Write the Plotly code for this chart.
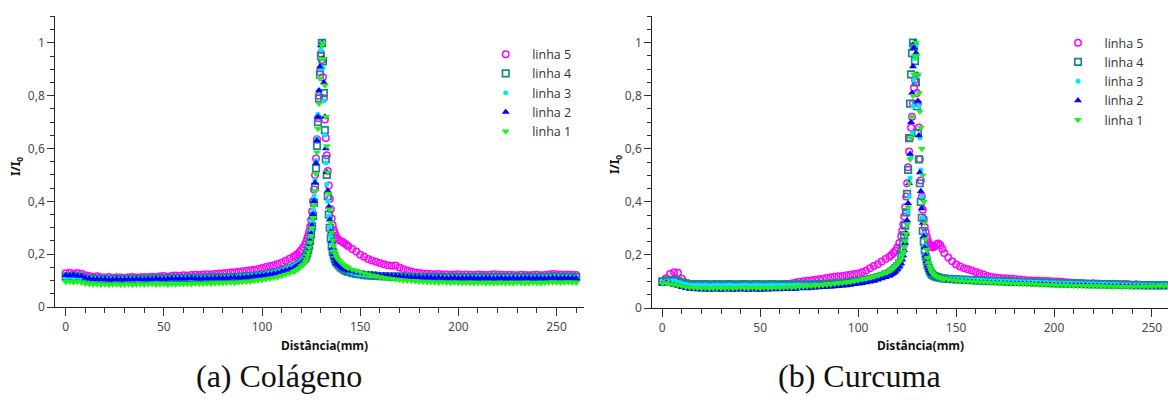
import plotly.graph_objects as go

# Distância (mm) sample positions
X_MM = [
    0, 2, 4, 6, 8, 10, 12, 14, 16, 18,
    20, 22, 24, 26, 28, 30, 32, 34, 36, 38,
    40, 42, 44, 46, 48, 50, 52, 54, 56, 58,
    60, 62, 64, 66, 68, 70, 72, 74, 76, 78,
    80, 82, 84, 86, 88, 90, 92, 94, 96, 98,
    100, 102, 104, 106, 108, 110, 112, 114,
    116, 117, 118, 119, 120, 121,
    122, 122.5, 123, 123.5, 124, 124.5, 125, 125.5, 126, 126.5,
    127, 127.5, 128, 128.5, 129, 129.5, 130, 130.5, 131, 131.5,
    132, 132.5, 133, 133.5, 134, 134.5, 135, 135.5, 136, 136.5,
    137, 137.5, 138,
    139, 140, 141, 142, 143, 144,
    146, 148, 150, 152, 154, 156, 158, 160, 162, 164,
    166, 168, 170, 172, 174, 176, 178, 180, 182, 184,
    186, 188, 190, 192, 194, 196, 198, 200, 202, 204,
    206, 208, 210, 212, 214, 216, 218, 220, 222, 224,
    226, 228, 230, 232, 234, 236, 238, 240, 242, 244,
    246, 248, 250, 252, 254, 256, 258, 260,
]

# ---------- (a) Colágeno ----------
COL_L5 = [
    0.128, 0.130, 0.127, 0.129, 0.126, 0.120, 0.117, 0.115, 0.116, 0.113,
    0.112, 0.114, 0.111, 0.113, 0.112, 0.111, 0.113, 0.114, 0.112, 0.113,
    0.114, 0.113, 0.115, 0.114, 0.116, 0.117, 0.115, 0.118, 0.119, 0.118,
    0.120, 0.119, 0.121, 0.122, 0.121, 0.123, 0.124, 0.123, 0.125, 0.127,
    0.128, 0.129, 0.131, 0.132, 0.133, 0.135, 0.137, 0.139, 0.141, 0.144,
    0.148, 0.151, 0.155, 0.158, 0.163, 0.168, 0.175, 0.183,
    0.190, 0.195, 0.200, 0.207, 0.216, 0.226,
    0.238, 0.247, 0.258, 0.270, 0.285, 0.305, 0.330, 0.362, 0.400, 0.445,
    0.500, 0.562, 0.635, 0.715, 0.800, 0.890, 0.960, 0.935, 0.870, 0.790,
    0.710, 0.640, 0.575, 0.515, 0.460, 0.410, 0.370, 0.335, 0.310, 0.292,
    0.280, 0.270, 0.262,
    0.255, 0.250, 0.246, 0.241, 0.236, 0.230,
    0.220, 0.210, 0.198, 0.190, 0.182, 0.176, 0.171, 0.167, 0.162, 0.158,
    0.156, 0.157, 0.150, 0.143, 0.138, 0.134, 0.131, 0.129, 0.127, 0.126,
    0.125, 0.124, 0.125, 0.123, 0.124, 0.122, 0.123, 0.124, 0.122, 0.123,
    0.122, 0.121, 0.123, 0.122, 0.121, 0.122, 0.124, 0.123, 0.122, 0.121,
    0.122, 0.121, 0.120, 0.122, 0.121, 0.120, 0.121, 0.122, 0.120, 0.121,
    0.123, 0.125, 0.124, 0.123, 0.122, 0.123, 0.122, 0.121,
]
COL_L4 = [
    0.115, 0.117, 0.114, 0.116, 0.113, 0.110, 0.108, 0.107, 0.108, 0.106,
    0.107, 0.105, 0.106, 0.107, 0.105, 0.106, 0.107, 0.106, 0.108, 0.107,
    0.106, 0.108, 0.107, 0.109, 0.108, 0.107, 0.109, 0.110, 0.109, 0.110,
    0.109, 0.110, 0.111, 0.110, 0.109, 0.111, 0.110, 0.112, 0.111, 0.112,
    0.111, 0.113, 0.112, 0.114, 0.113, 0.115, 0.116, 0.117, 0.118, 0.120,
    0.122, 0.124, 0.126, 0.129, 0.132, 0.136, 0.140, 0.146,
    0.150, 0.154, 0.158, 0.163, 0.169, 0.176,
    0.184, 0.193, 0.203, 0.215, 0.230, 0.250, 0.275, 0.305, 0.345, 0.395,
    0.455, 0.525, 0.610, 0.700, 0.790, 0.880, 0.950, 1.000, 0.930, 0.810,
    0.670, 0.560, 0.500, 0.420, 0.350, 0.300, 0.260, 0.230, 0.210, 0.195,
    0.183, 0.174, 0.166,
    0.158, 0.150, 0.145, 0.140, 0.136, 0.133,
    0.128, 0.125, 0.123, 0.121, 0.120, 0.119, 0.118, 0.117, 0.117, 0.116,
    0.115, 0.116, 0.115, 0.114, 0.115, 0.114, 0.113, 0.114, 0.113, 0.114,
    0.113, 0.112, 0.114, 0.113, 0.112, 0.113, 0.114, 0.112, 0.113, 0.112,
    0.113, 0.112, 0.113, 0.114, 0.112, 0.113, 0.112, 0.114, 0.113, 0.112,
    0.113, 0.114, 0.112, 0.113, 0.114, 0.113, 0.112, 0.113, 0.114, 0.113,
    0.114, 0.116, 0.115, 0.114, 0.113, 0.115, 0.114, 0.113,
]
COL_L3 = [
    0.113, 0.115, 0.112, 0.114, 0.112, 0.108, 0.106, 0.105, 0.106, 0.104,
    0.105, 0.104, 0.106, 0.105, 0.104, 0.105, 0.106, 0.105, 0.104, 0.106,
    0.105, 0.107, 0.106, 0.105, 0.107, 0.106, 0.108, 0.107, 0.108, 0.109,
    0.108, 0.109, 0.108, 0.110, 0.109, 0.110, 0.111, 0.110, 0.111, 0.112,
    0.112, 0.113, 0.114, 0.113, 0.115, 0.116, 0.117, 0.118, 0.120, 0.122,
    0.124, 0.126, 0.129, 0.132, 0.135, 0.139, 0.144, 0.150,
    0.154, 0.158, 0.163, 0.168, 0.174, 0.181,
    0.190, 0.200, 0.212, 0.226, 0.243, 0.265, 0.292, 0.325, 0.367, 0.420,
    0.482, 0.555, 0.640, 0.730, 0.820, 0.905, 0.975, 0.990, 0.905, 0.780,
    0.650, 0.545, 0.465, 0.400, 0.345, 0.300, 0.265, 0.238, 0.216, 0.200,
    0.188, 0.178, 0.170,
    0.162, 0.154, 0.148, 0.143, 0.139, 0.135,
    0.130, 0.126, 0.124, 0.122, 0.121, 0.119, 0.118, 0.117, 0.116, 0.115,
    0.115, 0.114, 0.113, 0.114, 0.113, 0.112, 0.113, 0.112, 0.111, 0.112,
    0.111, 0.112, 0.110, 0.111, 0.112, 0.111, 0.110, 0.111, 0.112, 0.111,
    0.110, 0.111, 0.112, 0.110, 0.111, 0.110, 0.112, 0.111, 0.110, 0.111,
    0.112, 0.111, 0.110, 0.111, 0.112, 0.110, 0.111, 0.112, 0.111, 0.110,
    0.112, 0.113, 0.112, 0.111, 0.112, 0.111, 0.112, 0.111,
]
COL_L2 = [
    0.120, 0.118, 0.121, 0.117, 0.116, 0.110, 0.107, 0.105, 0.106, 0.104,
    0.105, 0.103, 0.104, 0.105, 0.103, 0.104, 0.105, 0.104, 0.106, 0.105,
    0.104, 0.106, 0.105, 0.107, 0.106, 0.105, 0.107, 0.108, 0.107, 0.108,
    0.107, 0.108, 0.109, 0.108, 0.107, 0.108, 0.109, 0.108, 0.109, 0.110,
    0.109, 0.110, 0.111, 0.112, 0.111, 0.113, 0.114, 0.115, 0.117, 0.118,
    0.120, 0.122, 0.124, 0.127, 0.130, 0.134, 0.138, 0.144,
    0.148, 0.152, 0.157, 0.162, 0.168, 0.175,
    0.183, 0.192, 0.203, 0.216, 0.232, 0.252, 0.278, 0.310, 0.350, 0.400,
    0.470, 0.545, 0.630, 0.720, 0.820, 0.910, 0.990, 1.000, 0.940, 0.850,
    0.720, 0.600, 0.510, 0.440, 0.380, 0.330, 0.285, 0.250, 0.222, 0.200,
    0.185, 0.174, 0.165,
    0.158, 0.152, 0.147, 0.143, 0.140, 0.137,
    0.134, 0.131, 0.129, 0.127, 0.125, 0.124, 0.123, 0.121, 0.120, 0.119,
    0.118, 0.117, 0.116, 0.115, 0.114, 0.113, 0.113, 0.112, 0.111, 0.112,
    0.111, 0.110, 0.111, 0.110, 0.109, 0.110, 0.111, 0.109, 0.110, 0.109,
    0.110, 0.109, 0.108, 0.109, 0.110, 0.109, 0.108, 0.109, 0.110, 0.108,
    0.109, 0.110, 0.108, 0.109, 0.110, 0.109, 0.108, 0.110, 0.109, 0.108,
    0.109, 0.111, 0.110, 0.109, 0.110, 0.109, 0.110, 0.109,
]
COL_L1 = [
    0.095, 0.097, 0.094, 0.096, 0.093, 0.089, 0.087, 0.086, 0.087, 0.085,
    0.086, 0.084, 0.085, 0.086, 0.084, 0.085, 0.086, 0.084, 0.085, 0.086,
    0.085, 0.086, 0.087, 0.085, 0.086, 0.087, 0.085, 0.087, 0.086, 0.087,
    0.087, 0.088, 0.087, 0.089, 0.088, 0.089, 0.090, 0.089, 0.090, 0.091,
    0.091, 0.092, 0.093, 0.092, 0.094, 0.095, 0.096, 0.097, 0.099, 0.101,
    0.103, 0.105, 0.108, 0.111, 0.114, 0.118, 0.123, 0.128,
    0.133, 0.137, 0.142, 0.148, 0.155, 0.163,
    0.172, 0.182, 0.194, 0.208, 0.225, 0.245, 0.270, 0.300, 0.338, 0.385,
    0.440, 0.505, 0.585, 0.675, 0.770, 0.865, 0.940, 0.990, 1.000, 0.940,
    0.840, 0.720, 0.610, 0.510, 0.430, 0.370, 0.320, 0.282, 0.252, 0.230,
    0.212, 0.198, 0.187,
    0.178, 0.170, 0.163, 0.157, 0.152, 0.148,
    0.142, 0.137, 0.133, 0.128, 0.124, 0.120, 0.117, 0.114, 0.111, 0.109,
    0.107, 0.105, 0.103, 0.101, 0.100, 0.099, 0.098, 0.097, 0.096, 0.095,
    0.095, 0.094, 0.093, 0.094, 0.093, 0.092, 0.093, 0.092, 0.091, 0.092,
    0.091, 0.090, 0.091, 0.092, 0.090, 0.091, 0.090, 0.091, 0.092, 0.090,
    0.091, 0.090, 0.092, 0.091, 0.090, 0.091, 0.092, 0.091, 0.090, 0.092,
    0.093, 0.094, 0.093, 0.092, 0.093, 0.094, 0.093, 0.092,
]

# ---------- (b) Curcuma ----------
CUR_L5 = [
    0.100, 0.112, 0.128, 0.135, 0.133, 0.110, 0.095, 0.090, 0.088, 0.086,
    0.085, 0.086, 0.084, 0.085, 0.086, 0.084, 0.085, 0.086, 0.085, 0.084,
    0.085, 0.086, 0.085, 0.084, 0.086, 0.085, 0.086, 0.085, 0.086, 0.087,
    0.088, 0.089, 0.090, 0.092, 0.096, 0.099, 0.101, 0.103, 0.104, 0.106,
    0.108, 0.110, 0.113, 0.116, 0.118, 0.120, 0.121, 0.123, 0.125, 0.128,
    0.130, 0.135, 0.140, 0.150, 0.158, 0.165, 0.175, 0.185,
    0.193, 0.200, 0.207, 0.216, 0.228, 0.245,
    0.270, 0.290, 0.315, 0.345, 0.380, 0.420, 0.470, 0.530, 0.590, 0.640,
    0.680, 0.720, 0.770, 0.830, 0.860, 0.850, 0.810, 0.770, 0.680, 0.560,
    0.480, 0.420, 0.370, 0.335, 0.305, 0.285, 0.268, 0.255, 0.245, 0.238,
    0.233, 0.230, 0.228,
    0.232, 0.240, 0.243, 0.236, 0.222, 0.207,
    0.190, 0.176, 0.164, 0.156, 0.150, 0.146, 0.141, 0.136, 0.131, 0.126,
    0.121, 0.117, 0.115, 0.113, 0.112, 0.111, 0.110, 0.109, 0.107, 0.106,
    0.105, 0.104, 0.104, 0.103, 0.102, 0.102, 0.101, 0.100, 0.100, 0.099,
    0.097, 0.096, 0.095, 0.094, 0.094, 0.093, 0.092, 0.093, 0.092, 0.091,
    0.091, 0.090, 0.091, 0.090, 0.089, 0.090, 0.089, 0.088, 0.089, 0.088,
    0.087, 0.088, 0.087, 0.086, 0.087, 0.088, 0.087, 0.088,
]
CUR_L4 = [
    0.100, 0.104, 0.102, 0.105, 0.101, 0.097, 0.093, 0.090, 0.089, 0.090,
    0.089, 0.090, 0.088, 0.089, 0.090, 0.088, 0.089, 0.090, 0.089, 0.088,
    0.089, 0.090, 0.089, 0.088, 0.090, 0.089, 0.088, 0.089, 0.090, 0.089,
    0.088, 0.089, 0.088, 0.087, 0.088, 0.089, 0.088, 0.089, 0.088, 0.090,
    0.089, 0.090, 0.091, 0.090, 0.092, 0.093, 0.094, 0.095, 0.097, 0.099,
    0.101, 0.103, 0.106, 0.109, 0.112, 0.116, 0.121, 0.127,
    0.132, 0.137, 0.143, 0.150, 0.158, 0.168,
    0.200, 0.220, 0.245, 0.275, 0.310, 0.360, 0.430, 0.520, 0.640, 0.770,
    0.880, 0.960, 1.000, 0.985, 0.930, 0.850, 0.760, 0.660, 0.560, 0.470,
    0.400, 0.340, 0.290, 0.250, 0.218, 0.194, 0.176, 0.162, 0.150, 0.141,
    0.134, 0.128, 0.124,
    0.120, 0.117, 0.115, 0.113, 0.112, 0.111,
    0.110, 0.109, 0.108, 0.107, 0.106, 0.106, 0.105, 0.104, 0.104, 0.103,
    0.102, 0.102, 0.101, 0.101, 0.100, 0.100, 0.099, 0.099, 0.098, 0.098,
    0.097, 0.097, 0.096, 0.096, 0.095, 0.095, 0.094, 0.094, 0.093, 0.093,
    0.092, 0.092, 0.091, 0.091, 0.091, 0.090, 0.090, 0.090, 0.089, 0.089,
    0.089, 0.088, 0.088, 0.088, 0.087, 0.087, 0.087, 0.086, 0.086, 0.086,
    0.086, 0.085, 0.086, 0.085, 0.085, 0.086, 0.085, 0.086,
]
CUR_L3 = [
    0.098, 0.101, 0.099, 0.102, 0.097, 0.093, 0.089, 0.087, 0.086, 0.087,
    0.086, 0.087, 0.085, 0.086, 0.087, 0.085, 0.086, 0.087, 0.086, 0.085,
    0.086, 0.087, 0.086, 0.085, 0.087, 0.086, 0.085, 0.086, 0.087, 0.086,
    0.085, 0.086, 0.085, 0.084, 0.085, 0.086, 0.085, 0.086, 0.085, 0.087,
    0.086, 0.087, 0.088, 0.087, 0.089, 0.090, 0.091, 0.092, 0.094, 0.096,
    0.098, 0.100, 0.103, 0.106, 0.109, 0.113, 0.118, 0.124,
    0.129, 0.134, 0.140, 0.147, 0.155, 0.165,
    0.177, 0.190, 0.205, 0.224, 0.248, 0.278, 0.316, 0.363, 0.420, 0.490,
    0.570, 0.660, 0.760, 0.860, 0.940, 0.990, 0.960, 0.880, 0.760, 0.640,
    0.520, 0.420, 0.340, 0.280, 0.235, 0.202, 0.180, 0.164, 0.152, 0.143,
    0.136, 0.130, 0.126,
    0.121, 0.118, 0.116, 0.114, 0.113, 0.112,
    0.111, 0.110, 0.109, 0.108, 0.107, 0.107, 0.106, 0.105, 0.105, 0.104,
    0.103, 0.103, 0.102, 0.102, 0.101, 0.101, 0.100, 0.100, 0.099, 0.099,
    0.098, 0.098, 0.097, 0.097, 0.096, 0.096, 0.095, 0.095, 0.094, 0.094,
    0.093, 0.093, 0.092, 0.092, 0.092, 0.091, 0.091, 0.091, 0.090, 0.090,
    0.090, 0.089, 0.089, 0.089, 0.088, 0.088, 0.088, 0.087, 0.087, 0.087,
    0.087, 0.086, 0.087, 0.086, 0.086, 0.087, 0.086, 0.087,
]
CUR_L2 = [
    0.090, 0.095, 0.091, 0.087, 0.083, 0.078, 0.074, 0.072, 0.071, 0.070,
    0.069, 0.070, 0.068, 0.069, 0.070, 0.068, 0.069, 0.070, 0.068, 0.069,
    0.070, 0.069, 0.068, 0.070, 0.069, 0.068, 0.070, 0.069, 0.070, 0.071,
    0.070, 0.071, 0.072, 0.071, 0.072, 0.073, 0.074, 0.073, 0.075, 0.076,
    0.077, 0.078, 0.079, 0.080, 0.081, 0.082, 0.084, 0.085, 0.087, 0.089,
    0.091, 0.093, 0.096, 0.099, 0.102, 0.106, 0.111, 0.116,
    0.121, 0.126, 0.131, 0.137, 0.145, 0.155,
    0.168, 0.182, 0.198, 0.218, 0.245, 0.280, 0.330, 0.395, 0.470, 0.580,
    0.700, 0.810, 0.910, 0.980, 1.000, 0.960, 0.880, 0.780, 0.650, 0.510,
    0.440, 0.375, 0.320, 0.270, 0.228, 0.198, 0.176, 0.160, 0.150, 0.142,
    0.136, 0.131, 0.127,
    0.122, 0.118, 0.115, 0.112, 0.110, 0.108,
    0.106, 0.104, 0.102, 0.101, 0.100, 0.099, 0.098, 0.097, 0.096, 0.095,
    0.095, 0.094, 0.094, 0.093, 0.093, 0.092, 0.092, 0.091, 0.091, 0.091,
    0.090, 0.090, 0.089, 0.089, 0.089, 0.088, 0.088, 0.087, 0.087, 0.087,
    0.086, 0.086, 0.086, 0.085, 0.085, 0.085, 0.084, 0.084, 0.084, 0.083,
    0.083, 0.083, 0.082, 0.082, 0.082, 0.081, 0.081, 0.081, 0.080, 0.080,
    0.080, 0.081, 0.080, 0.081, 0.080, 0.081, 0.080, 0.081,
]
CUR_L1 = [
    0.092, 0.094, 0.090, 0.088, 0.086, 0.083, 0.079, 0.077, 0.076, 0.075,
    0.074, 0.075, 0.073, 0.074, 0.075, 0.074, 0.073, 0.075, 0.074, 0.075,
    0.076, 0.075, 0.074, 0.076, 0.075, 0.074, 0.076, 0.075, 0.076, 0.077,
    0.076, 0.077, 0.078, 0.077, 0.079, 0.080, 0.081, 0.082, 0.083, 0.084,
    0.085, 0.086, 0.088, 0.089, 0.091, 0.093, 0.095, 0.097, 0.099, 0.102,
    0.105, 0.108, 0.111, 0.115, 0.119, 0.123, 0.128, 0.134,
    0.139, 0.144, 0.150, 0.157, 0.165, 0.174,
    0.185, 0.198, 0.212, 0.230, 0.252, 0.280, 0.315, 0.380, 0.470, 0.560,
    0.640, 0.720, 0.800, 0.880, 0.950, 1.000, 0.950, 0.880, 0.810, 0.740,
    0.680, 0.600, 0.500, 0.400, 0.320, 0.260, 0.220, 0.190, 0.170, 0.155,
    0.145, 0.136, 0.129,
    0.123, 0.119, 0.116, 0.113, 0.111, 0.109,
    0.107, 0.105, 0.104, 0.102, 0.101, 0.100, 0.099, 0.098, 0.097, 0.096,
    0.096, 0.095, 0.094, 0.094, 0.093, 0.093, 0.092, 0.092, 0.091, 0.091,
    0.090, 0.090, 0.089, 0.089, 0.088, 0.088, 0.087, 0.087, 0.086, 0.086,
    0.086, 0.085, 0.085, 0.084, 0.084, 0.084, 0.083, 0.083, 0.083, 0.082,
    0.082, 0.082, 0.081, 0.081, 0.081, 0.080, 0.080, 0.081, 0.080, 0.081,
    0.081, 0.082, 0.081, 0.082, 0.083, 0.082, 0.083, 0.084,
]

SERIES_NAMES = ["linha 5", "linha 4", "linha 3", "linha 2", "linha 1"]
COLAGENO = [COL_L5, COL_L4, COL_L3, COL_L2, COL_L1]
CURCUMA = [CUR_L5, CUR_L4, CUR_L3, CUR_L2, CUR_L1]
CAPTIONS = ["(a) Colágeno", "(b) Curcuma"]
X_TITLE = "Distância(mm)"
Y_TITLE = "I/I<sub>0</sub>"

STYLES = [
    dict(symbol="circle-open", size=6.5, color="#ff00ff", line=dict(width=1.5, color="#ff00ff")),
    dict(symbol="square-open", size=6.5, color="#17878a", line=dict(width=1.7, color="#17878a")),
    dict(symbol="circle", size=5, color="#00e8ff", line=dict(width=0)),
    dict(symbol="triangle-up", size=7, color="#0000ff", line=dict(width=0)),
    dict(symbol="triangle-down", size=7, color="#22f01e", line=dict(width=0)),
]

W, H = 1168, 400
fig = go.Figure()

for data, xa, ya, lg in [(COLAGENO, "x", "y", "legend"), (CURCUMA, "x2", "y2", "legend2")]:
    for name, ys, st in zip(SERIES_NAMES, data, STYLES):
        assert len(ys) == len(X_MM), (name, len(ys))
        fig.add_trace(go.Scatter(
            x=X_MM, y=ys, mode="markers", name=name,
            marker=st, xaxis=xa, yaxis=ya, legend=lg,
        ))

tick_font = dict(family="Noto Sans, Open Sans, sans-serif", size=12, color="#4a4a4a")
common_x = dict(
    showline=True, linecolor="#222222", linewidth=1.3, showgrid=False, zeroline=False,
    ticks="outside", ticklen=8, tickwidth=1.2, tickcolor="#333333", automargin=False,
    dtick=50, tick0=0, tickfont=tick_font,
    minor=dict(ticks="outside", ticklen=5, dtick=10, tick0=0, tickcolor="#333333", tickwidth=1, showgrid=False),
)
common_y = dict(
    showline=True, linecolor="#222222", linewidth=1.3, showgrid=False, zeroline=False,
    ticks="outside", ticklen=7, tickwidth=1.2, tickcolor="#333333", automargin=False,
    dtick=0.2, tick0=0, tickfont=tick_font,
    minor=dict(ticks="outside", ticklen=4, dtick=0.05, tick0=0, tickcolor="#333333", tickwidth=1, showgrid=False),
)

legend_font = dict(family="Open Sans, Noto Sans, sans-serif", size=12.5, color="#333333")
fig.update_layout(
    width=W, height=H,
    margin=dict(l=0, r=0, t=0, b=0, autoexpand=False),
    paper_bgcolor="white", plot_bgcolor="white",
    separators=",.",
    xaxis=dict(domain=[55.3 / W, 584 / W], range=[-5.3, 264.0], anchor="y", **common_x),
    yaxis=dict(domain=[(H - 307) / H, (H - 15.7) / H], range=[0, 1.103], anchor="x", **common_y),
    xaxis2=dict(domain=[652.3 / W, 1.0], range=[-5.1, 258.2], anchor="y2", **common_x),
    yaxis2=dict(domain=[(H - 308) / H, (H - 16) / H], range=[0, 1.1], anchor="x2", **common_y),
    legend=dict(x=479.2 / W, y=1 - 39.5 / H, xanchor="left", yanchor="top",
                bgcolor="rgba(0,0,0,0)", itemwidth=43, tracegroupgap=0, font=legend_font),
    legend2=dict(x=1051.5 / W, y=1 - 28 / H, xanchor="left", yanchor="top",
                 bgcolor="rgba(0,0,0,0)", itemwidth=43, tracegroupgap=0, font=legend_font),
    showlegend=True,
)

ann = []
for xc, yc in [(16, 167), (615, 165)]:
    ann.append(dict(x=xc / W, y=1 - yc / H, xref="paper", yref="paper", showarrow=False,
                    xanchor="center", yanchor="middle",
                    text="<b>" + Y_TITLE + "</b>", textangle=-90,
                    font=dict(family="Noto Sans, sans-serif", size=12, color="#111111")))
for xc in [325, 920]:
    ann.append(dict(x=xc / W, y=1 - 345 / H, xref="paper", yref="paper", showarrow=False,
                    xanchor="center", yanchor="middle",
                    text="<b>" + X_TITLE + "</b>",
                    font=dict(family="Noto Sans, sans-serif", size=12, color="#111111")))
for xc, cap in zip([279, 860], CAPTIONS):
    ann.append(dict(x=xc / W, y=1 - 376 / H, xref="paper", yref="paper", showarrow=False,
                    xanchor="center", yanchor="middle",
                    text=cap,
                    font=dict(family="Liberation Serif, Times New Roman, serif", size=32, color="#111111")))
fig.update_layout(annotations=ann)

fig.write_html("out.html", config={"displayModeBar": False},
               post_script="document.body.style.margin='0px';")
